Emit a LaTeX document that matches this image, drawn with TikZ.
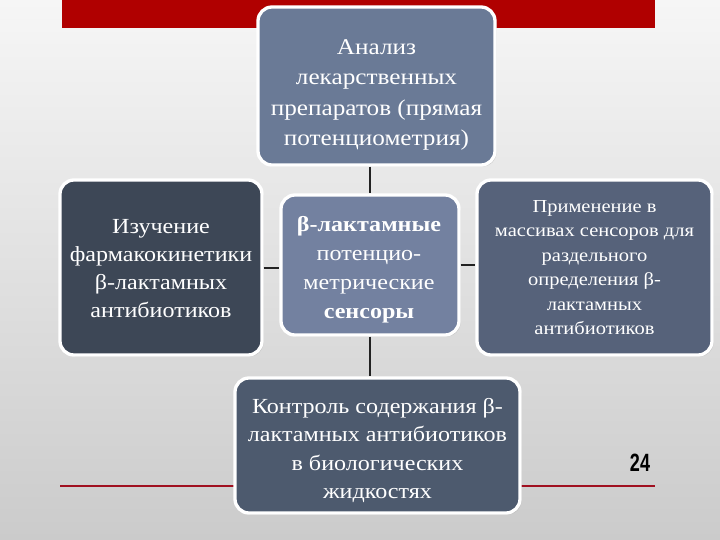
\documentclass[tikz,border=0pt]{standalone}
\usepackage{fontspec}
\setmainfont{Liberation Serif}
\newfontfamily\boxfont[FakeStretch=1.12]{Liberation Serif}
\newfontfamily\numfont{Liberation Sans}
\usetikzlibrary{shadows}
\definecolor{bgtop}{HTML}{F6F6F6}
\definecolor{bgbot}{HTML}{CBCBCB}
\definecolor{barred}{HTML}{B00000}
\definecolor{linered}{HTML}{A01020}
\definecolor{ctop}{HTML}{6A7A96}
\definecolor{cleft}{HTML}{3D4756}
\definecolor{ccent}{HTML}{7381A0}
\definecolor{cright}{HTML}{56627A}
\definecolor{cbot}{HTML}{4D5A6E}
\definecolor{conn}{HTML}{222222}
\tikzset{
  boxnode/.style={draw=white, line width=3.3pt, rounded corners=14pt, inner sep=0pt, drop shadow={opacity=0.35, shadow xshift=1.5pt, shadow yshift=-1.5pt}},
  boxtext/.style={text=white, align=center, inner sep=0pt},
  connline/.style={draw=conn, line width=2pt},
}
\begin{document}
\begin{tikzpicture}[x=1pt,y=-1pt]
\useasboundingbox (0,0) rectangle (720,540);
\shade[top color=bgtop, bottom color=bgbot] (0,0) rectangle (720,540);
\fill[barred] (62,0) rectangle (655,28);
\draw[linered, line width=1.8pt] (60,486) -- (655,486);
% boxes
\node[boxnode, fill=ctop, minimum width=237pt, minimum height=158pt] (top) at (376.5,86) {};
\node[boxnode, fill=cleft, minimum width=202pt, minimum height=175pt] (left) at (161,267.5) {};
\node[boxnode, fill=ccent, minimum width=178pt, minimum height=140pt] (cent) at (370,265) {};
\node[boxnode, fill=cright, minimum width=235pt, minimum height=175pt] (right) at (594.5,267.5) {};
\node[boxnode, fill=cbot, minimum width=285pt, minimum height=135pt] (bot) at (377.5,445.5) {};
% texts
\node[boxtext, font=\boxfont\fontsize{22.5}{30.5}\selectfont] (toptext) at (376.5,95) {Анализ\\лекарственных\\препаратов (прямая\\потенциометрия)};
\node[boxtext, font=\boxfont\fontsize{21.5}{28}\selectfont] (lefttext) at (161,268.5) {Изучение\\фармакокинетики\\β-лактамных\\антибиотиков};
\node[boxtext, font=\boxfont\fontsize{21.5}{29}\selectfont] (centtext) at (369,270) {\textbf{β-лактамные}\\потенцио-\\метрические\\\textbf{сенсоры}};
\node[boxtext, font=\boxfont\fontsize{18.3}{24.4}\selectfont] (righttext) at (594.5,267.5) {Применение в\\массивах сенсоров для\\раздельного\\определения β-\\лактамных\\антибиотиков};
\node[boxtext, font=\boxfont\fontsize{21.5}{28.5}\selectfont] (bottext) at (377.5,450.5) {Контроль содержания β-\\лактамных антибиотиков\\в биологических\\жидкостях};
% connectors
\draw[connline] (top.south -| cent.north) -- (cent.north);
\draw[connline] (cent.south) -- (cent.south |- bot.north);
\draw[connline] (left.east) -- (left.east -| cent.west);
\draw[connline] (cent.east) -- (cent.east -| right.west);
\node[font=\numfont\bfseries\fontsize{25}{25}\selectfont, text=black, inner sep=0pt] (pnum) at (640,463) {\scalebox{0.72}[1]{24}};
\end{tikzpicture}
\end{document}
